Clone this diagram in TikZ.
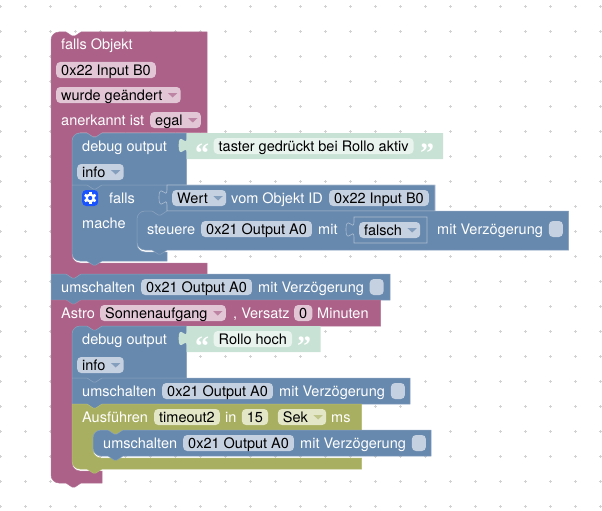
\documentclass[tikz,border=0pt]{standalone}
\usepackage{fontspec}
\setmainfont{TeX Gyre Heros}
\newfontfamily\quotefont{Liberation Serif}
\definecolor{purpleblock}{HTML}{AB6188}
\definecolor{blueblock}{HTML}{6889AE}
\definecolor{oliveblock}{HTML}{A9AF60}
\definecolor{mintblock}{HTML}{C8E2D5}
\definecolor{pinkfield}{HTML}{E2C6D6}
\definecolor{bluefield}{HTML}{C5D0E0}
\definecolor{olivefield}{HTML}{E3E6C7}
\definecolor{mintfield}{HTML}{E9F4EF}
\tikzset{
  lbl/.style={anchor=west, inner sep=0pt, text=white, text height=12.5pt, text depth=2.5pt},
  field/.style={anchor=west, inner xsep=5pt, inner ysep=0.5pt, rounded corners=4pt, text=black, text height=12.5pt, text depth=2.5pt},
  pfield/.style={field, fill=pinkfield},
  bfield/.style={field, fill=bluefield},
  ofield/.style={field, fill=olivefield},
  mfield/.style={field, fill=mintfield},
  tickbox/.style={bfield, inner xsep=0pt, minimum width=14pt},
  quotemark/.style={inner sep=0pt, text=white, font=\quotefont\bfseries\fontsize{28}{28}\selectfont},
  purpleblk/.style={fill=purpleblock, draw=purpleblock!88!white, line width=0.5pt},
  blueblk/.style={fill=blueblock, draw=blueblock!80!white, line width=0.5pt},
  oliveblk/.style={fill=oliveblock, draw=oliveblock!88!white, line width=0.5pt},
  mintblk/.style={fill=mintblock},
  valblk/.style={fill=blueblock, draw=blueblock!55!white, line width=0.6pt},
}
% notch along a top edge and bump along a bottom edge
\def\notchR{-- ++(6,4) -- ++(3,0) -- ++(6,-4)}
\def\bumpL{-- ++(-6,4) -- ++(-3,0) -- ++(-6,-4)}
% room for the dropdown triangle
\def\dropgap{\kern13.3pt}
% style, left, top, right, bottom, top-left radius, bottom-left radius
\newcommand{\stmtblock}[7]{
  \path[#1] [rounded corners=#6pt] (#2,{(#3+#5)/2}) -- (#2,#3) [sharp corners] -- (#2+15,#3) \notchR
    -- (#4,#3) -- (#4,#5) -- (#2+30,#5) \bumpL [rounded corners=#7pt] -- (#2,#5) [sharp corners] -- cycle;
}
% style, left, top, head right, head bottom, inner left, foot top, foot right, foot bottom, top-left radius, bottom-left radius
\newcommand{\mouthblock}[9]{
  \def\mstyle{#1}\def\mx{#2}\def\my{#3}\def\mhr{#4}\def\mhb{#5}\def\mix{#6}\def\mft{#7}\def\mfr{#8}\def\mfb{#9}
  \mouthrest
}
\newcommand{\mouthrest}[2]{
  \path[\mstyle] [rounded corners=#1pt] (\mx,{(\my+\mhb)/2}) -- (\mx,\my) [sharp corners] -- (\mx+15,\my) \notchR
    -- (\mhr,\my) -- (\mhr,\mhb) -- (\mix+30,\mhb) \bumpL -- (\mix+8,\mhb)
    .. controls (\mix+3.6,\mhb) and (\mix,\mhb+4.4) .. (\mix,\mhb+8)
    [rounded corners=8pt] -- (\mix,\mft) [sharp corners] -- (\mfr,\mft) -- (\mfr,\mfb)
    -- (\mx+30,\mfb) \bumpL [rounded corners=#2pt] -- (\mx,\mfb) [sharp corners] -- cycle;
}
% style, left, top, right, bottom
\newcommand{\valueblock}[5]{
  \path[#1] (#2,#3) -- (#4,#3) -- (#4,#5) -- (#2,#5) -- (#2,#3+20)
    .. controls (#2,#3+10) and (#2-8,#3+28) .. (#2-8,#3+12.5)
    .. controls (#2-8,#3-3) and (#2,#3+15) .. (#2,#3+5) -- cycle;
}
% little triangle at the right end of a dropdown
\newcommand{\droparrow}[2]{
  \fill[#2] ([xshift=-13pt,yshift=2pt]#1.east) -- ++(9.5,0) -- ++(-4.75,4.5) -- cycle;
}
\begin{document}
\begin{tikzpicture}[x=1pt,y=-1pt,font=\fontsize{14.5}{17}\selectfont]
  \useasboundingbox (0,0) rectangle (602,511);
  % background grid
  \foreach \gx in {0,25,...,600} {
    \foreach \gy in {6.7,31.7,...,506.7} {
      \draw[gray!35, line width=0.5pt] (\gx-1.5,\gy) -- (\gx+1.5,\gy) (\gx,\gy-1.5) -- (\gx,\gy+1.5);
    }
  }

  % falls Objekt
  \mouthblock{purpleblk}{51}{32}{207}{132.7}{72}{263}{207}{274}{8}{0}
  \node[lbl] (objtitle) at (61,45) {falls Objekt};
  \node[pfield] (objid) at (56,70) {0x22 Input B0};
  \node[pfield] (objchange) at (56,95) {wurde geändert\dropgap};
  \droparrow{objchange}{purpleblock!65!pinkfield}
  \node[lbl] (objack) at (61,120) {anerkannt ist};
  \node[pfield] (objegal) at (150,120) {egal\dropgap};
  \droparrow{objegal}{purpleblock!65!pinkfield}

  % debug output with text
  \stmtblock{blueblk}{72}{133}{186.7}{185}{8}{0}
  \valueblock{mintblk}{186.7}{133}{443}{159}
  \node[lbl] (dbgone) at (82,146) {debug output};
  \node[quotemark] (openone) at (202,153) {“};
  \node[mfield] (dbgtext) at (213.5,146) {taster gedrückt bei Rollo aktiv};
  \node[quotemark] (closeone) at (427,153) {”};
  \node[bfield] (dbginfo) at (77,172) {info\dropgap};
  \droparrow{dbginfo}{blueblock!70!bluefield}

  % falls / mache
  \mouthblock{blueblk}{72}{185}{167}{211}{137}{252}{167}{261}{0}{8}
  \node[field, fill=blue!75!cyan!90!white, minimum width=16pt, inner xsep=0pt] (gear) at (82,198) {};
  \fill[white] (gear.center) circle (4.6pt);
  \foreach \a in {0,60,...,300} {
    \fill[white, shift={(gear.center)}, rotate=\a] (-1.3,0) rectangle (1.3,6.2);
  }
  \fill[blue!75!cyan!90!white] (gear.center) circle (2.1pt);
  \node[lbl] (iflabel) at (109,198) {falls};
  \node[lbl] (dolabel) at (82,223) {mache};

  \valueblock{valblk}{167}{185}{435}{211}
  \node[bfield] (wert) at (172,198) {Wert\dropgap};
  \droparrow{wert}{blueblock!70!bluefield}
  \node[lbl] (vomobj) at (231,198) {vom Objekt ID};
  \node[bfield] (wertid) at (329,198) {0x22 Input B0};

  % steuere
  \stmtblock{blueblk}{137}{211}{568.7}{250}{8}{8}
  \node[lbl] (setlabel) at (147,229) {steuere};
  \node[bfield] (setid) at (201,229) {0x21 Output A0};
  \node[lbl] (setmit) at (318,229) {mit};
  \valueblock{valblk}{354}{217}{427}{243}
  \node[bfield] (falsch) at (359,230) {falsch\dropgap};
  \droparrow{falsch}{blueblock!70!bluefield}
  \node[lbl] (setdelay) at (437,229) {mit Verzögerung};
  \node[tickbox] (settick) at (548.7,229) {};

  % umschalten
  \stmtblock{blueblk}{51}{274}{390}{300}{0}{0}
  \node[lbl] (toglabel) at (61,287) {umschalten};
  \node[bfield] (togid) at (141,287) {0x21 Output A0};
  \node[lbl] (togdelay) at (258,287) {mit Verzögerung};
  \node[tickbox] (togtick) at (369.5,287) {};

  % Astro
  \mouthblock{purpleblk}{51}{300}{380.5}{326}{72}{471}{102}{483}{0}{8}
  \node[lbl] (astrolabel) at (61,313) {Astro};
  \node[pfield] (astrosun) at (100,313) {Sonnenaufgang\dropgap};
  \droparrow{astrosun}{purpleblock!65!pinkfield}
  \node[lbl] (astrooff) at (233,313) {, Versatz};
  \node[pfield] (astrozero) at (294,313) {0};
  \node[lbl] (astromin) at (317,313) {Minuten};

  % debug output, second one
  \stmtblock{blueblk}{72}{326}{186.7}{378}{8}{0}
  \valueblock{mintblk}{186.7}{326}{320.7}{352}
  \node[lbl] (dbgtwo) at (82,339) {debug output};
  \node[quotemark] (opentwo) at (202,346) {“};
  \node[mfield] (dbgrollo) at (213.5,339) {Rollo hoch};
  \node[quotemark] (closetwo) at (304,346) {”};
  \node[bfield] (dbginfotwo) at (77,365) {info\dropgap};
  \droparrow{dbginfotwo}{blueblock!70!bluefield}

  % umschalten under Astro
  \stmtblock{blueblk}{72}{378}{410}{404}{0}{0}
  \node[lbl] (togtwolabel) at (82,391) {umschalten};
  \node[bfield] (togtwoid) at (162,391) {0x21 Output A0};
  \node[lbl] (togtwodelay) at (279,391) {mit Verzögerung};
  \node[tickbox] (togtwotick) at (390.7,391) {};

  % Ausführen
  \mouthblock{oliveblk}{72}{404}{361.7}{430}{93}{458}{361.7}{469}{0}{8}
  \node[lbl] (runlabel) at (82,417) {Ausführen};
  \node[ofield] (runname) at (154,417) {timeout2};
  \node[lbl] (runin) at (225,417) {in};
  \node[ofield] (runval) at (241.7,417) {15};
  \node[ofield] (rununit) at (277.7,417) {Sek\dropgap};
  \droparrow{rununit}{oliveblock!60!olivefield}
  \node[lbl] (runms) at (331,417) {ms};

  \stmtblock{blueblk}{93}{430}{431}{456}{8}{8}
  \node[lbl] (togthreelabel) at (103,443) {umschalten};
  \node[bfield] (togthreeid) at (183,443) {0x21 Output A0};
  \node[lbl] (togthreedelay) at (300,443) {mit Verzögerung};
  \node[tickbox] (togthreetick) at (411.7,443) {};
\end{tikzpicture}
\end{document}
